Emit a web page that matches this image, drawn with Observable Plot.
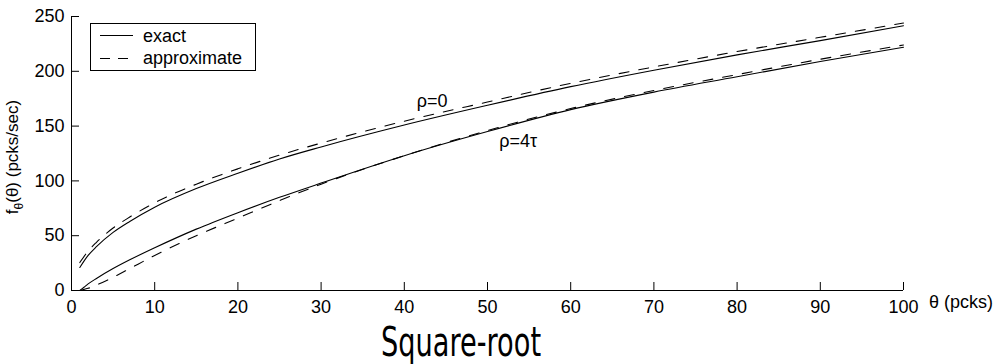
<!DOCTYPE html>
<html><head><meta charset="utf-8">
<script src="https://cdn.jsdelivr.net/npm/d3@7"></script>
<script src="https://cdn.jsdelivr.net/npm/@observablehq/plot@0.6"></script>
<style>
body{margin:0;background:#fff;}
#wrap{position:relative;width:997px;height:364px;overflow:hidden;background:#fff;}
#title{position:absolute;left:461px;top:322px;line-height:40px;white-space:nowrap;font-family:"DejaVu Sans",sans-serif;font-size:40px;color:#000;transform:translateX(-50%) scaleX(0.68);}
</style></head><body><div id="wrap"></div>
<script>
// θ (pcks) sample points
const thetaA = [1, 2, 3, 5, 7, 10, 15, 20, 25, 30, 40, 50, 60, 70, 80, 90, 100];
const rho0Exact  = [21, 32, 40, 53, 63, 76, 93, 107, 120, 131, 151, 169, 186, 201, 215, 228, 241.5];
const rho0Approx = [25.5, 36, 44, 57, 67, 80, 97, 111, 123.5, 134.5, 154.5, 172, 189, 204, 218, 231, 244];
const thetaB = [1, 1.5, 2, 3, 5, 7, 10, 15, 20, 25, 30, 40, 50, 60, 70, 80, 90, 100];
const rho4Exact  = [0, 3, 6, 11, 20, 28, 39, 56, 71, 85, 98, 123, 145, 165, 181, 195, 209, 222];
const rho4Approx = [0, 1, 2, 5, 12, 20, 32, 50, 66, 82, 97, 123, 146, 166, 182.5, 197, 211, 224];
const xTicks = [0, 10, 20, 30, 40, 50, 60, 70, 80, 90, 100];
const yTicks = [0, 50, 100, 150, 200, 250];
const curveLabels = ["ρ=0", "ρ=4τ"];
const curveLabelTheta = [41.5, 51.4];
const curveLabelValue = [173, 136];
const legendLabels = ["exact", "approximate"];
const titleText = "Square-root";

const toRows = (xs, ys) => xs.map((t, i) => ({t, v: ys[i]}));
const font = "'Liberation Sans', Arial, sans-serif";
const W = 997, H = 320, ML = 71, MR = 94, MT = 16, MB = 30, TICK = 8;

const chart = Plot.plot({
  width: W, height: H,
  marginLeft: ML, marginRight: MR, marginTop: MT, marginBottom: MB,
  style: {fontFamily: font, fontSize: "18px", background: "white", color: "black", overflow: "visible"},
  x: {domain: [0, 100]},
  y: {domain: [0, 250]},
  marks: [
    Plot.ruleY([0], {stroke: "black"}),
    Plot.ruleX([0], {stroke: "black"}),
    // inward ticks
    Plot.tickX(xTicks, {x: d => d, stroke: "black", insetTop: H - MT - MB - TICK}),
    Plot.tickY(yTicks, {y: d => d, stroke: "black", insetRight: W - ML - MR - TICK}),
    Plot.axisX({ticks: xTicks, tickSize: 0, tickPadding: 10, label: null, tickFormat: d => String(d)}),
    Plot.axisY({ticks: yTicks, tickSize: 0, tickPadding: 7, label: null, tickFormat: d => String(d)}),
    Plot.line(toRows(thetaA, rho0Exact), {x: "t", y: "v", curve: "monotone-x", stroke: "black", strokeWidth: 1.1}),
    Plot.line(toRows(thetaA, rho0Approx), {x: "t", y: "v", curve: "monotone-x", stroke: "black", strokeWidth: 1.1, strokeDasharray: "10,10"}),
    Plot.line(toRows(thetaB, rho4Exact), {x: "t", y: "v", curve: "monotone-x", stroke: "black", strokeWidth: 1.1}),
    Plot.line(toRows(thetaB, rho4Approx), {x: "t", y: "v", curve: "monotone-x", stroke: "black", strokeWidth: 1.1, strokeDasharray: "10,10"}),
    Plot.text(curveLabels, {x: (d, i) => curveLabelTheta[i], y: (d, i) => curveLabelValue[i], text: d => d, textAnchor: "start", fill: "black", fontSize: 18})
  ]
});

const svg = d3.select(chart);
// y-axis label with subscript
const yl = svg.append("text")
  .attr("transform", "translate(18,157) rotate(-90)")
  .attr("text-anchor", "middle")
  .attr("font-family", font).attr("font-size", 17).attr("fill", "black");
yl.append("tspan").text("f");
yl.append("tspan").attr("dy", 5).attr("font-size", 12).text("θ");
yl.append("tspan").attr("dy", -5).text("(θ) (pcks/sec)");
// x-axis label
svg.append("text").attr("x", 929).attr("y", 308).attr("text-anchor", "start")
  .attr("font-family", font).attr("font-size", 18).attr("fill", "black").text("θ (pcks)");
// legend
const lg = svg.append("g");
lg.append("rect").attr("x", 90.5).attr("y", 23.5).attr("width", 165).attr("height", 47)
  .attr("fill", "white").attr("stroke", "black");
lg.append("line").attr("x1", 100).attr("x2", 133).attr("y1", 35.5).attr("y2", 35.5).attr("stroke", "black");
lg.append("line").attr("x1", 100).attr("x2", 133).attr("y1", 58.5).attr("y2", 58.5).attr("stroke", "black").attr("stroke-dasharray", "10,8");
lg.selectAll("text.lab").data(legendLabels).join("text").attr("class", "lab")
  .attr("x", 143).attr("y", (d, i) => 42 + i * 22).attr("text-anchor", "start")
  .attr("font-family", font).attr("font-size", 18).attr("fill", "black").text(d => d);

const wrap = document.getElementById("wrap");
wrap.appendChild(chart);
const t = document.createElement("div");
t.id = "title"; t.textContent = titleText;
wrap.appendChild(t);
</script>
</body></html>
